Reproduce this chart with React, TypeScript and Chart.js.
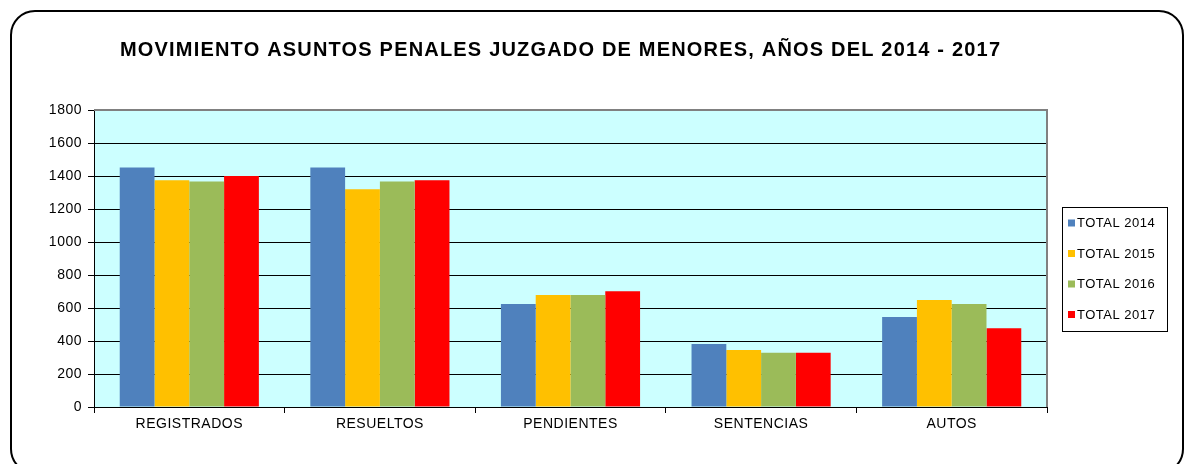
import React, { useEffect, useRef } from "react";
import { Chart, registerables } from "chart.js";

Chart.register(...registerables);

const TITLE = "MOVIMIENTO ASUNTOS PENALES JUZGADO DE MENORES, AÑOS DEL 2014 - 2017";
const categories = ["REGISTRADOS", "RESUELTOS", "PENDIENTES", "SENTENCIAS", "AUTOS"];
const seriesLabels = ["TOTAL 2014", "TOTAL 2015", "TOTAL 2016", "TOTAL 2017"];
const total2014 = [1452, 1452, 624, 382, 545];
const total2015 = [1374, 1319, 679, 345, 648];
const total2016 = [1366, 1366, 679, 329, 624];
const total2017 = [1400, 1374, 701, 329, 477];
const seriesColors = ["#4F81BD", "#FFC000", "#9BBB59", "#FF0000"];
const yMax = 1800;
const yStep = 200;

const FONT = "'Liberation Sans', Arial, sans-serif";

const framePlugin = {
  id: "framePlugin",
  beforeDraw(chart: any) {
    const { ctx, chartArea } = chart;
    ctx.save();
    ctx.fillStyle = "#ffffff";
    ctx.fillRect(0, 0, chart.width, chart.height);
    // rounded frame
    ctx.strokeStyle = "#000000";
    ctx.lineWidth = 2;
    ctx.beginPath();
    (ctx as any).roundRect(11, 11, 1172, 462, 24);
    ctx.stroke();
    // plot background
    ctx.fillStyle = "#CCFFFF";
    ctx.fillRect(chartArea.left, chartArea.top, chartArea.right - chartArea.left, chartArea.bottom - chartArea.top);
    ctx.restore();
    (ctx as any).letterSpacing = "0.5px";
  },
  afterDraw(chart: any) {
    const { ctx, chartArea } = chart;
    ctx.save();
    // plot border top/right
    ctx.strokeStyle = "#808080";
    ctx.lineWidth = 2;
    ctx.beginPath();
    ctx.moveTo(chartArea.left, chartArea.top);
    ctx.lineTo(chartArea.right, chartArea.top);
    ctx.lineTo(chartArea.right, chartArea.bottom);
    ctx.stroke();
    // title, fitted to span 120..1000
    ctx.fillStyle = "#000";
    ctx.font = `bold 20px ${FONT}`;
    ctx.textAlign = "left";
    ctx.textBaseline = "middle";
    (ctx as any).letterSpacing = "0px";
    const w0 = ctx.measureText(TITLE).width;
    const n = Array.from(TITLE).length;
    const sp = (880 - w0) / (n - 1);
    (ctx as any).letterSpacing = `${sp}px`;
    ctx.fillText(TITLE, 120, 50);
    // legend
    const lx = 1062, ly = 207, lw = 105, lh = 124;
    ctx.strokeStyle = "#000";
    ctx.lineWidth = 1;
    ctx.strokeRect(lx + 0.5, ly + 0.5, lw, lh);
    ctx.font = `13px ${FONT}`;
    (ctx as any).letterSpacing = "0.5px";
    ctx.textAlign = "left";
    chart.data.datasets.forEach((ds: any, i: number) => {
      const cy = 223 + i * 30.5;
      ctx.fillStyle = ds.backgroundColor;
      ctx.fillRect(1068, cy - 3.5, 7, 7);
      ctx.fillStyle = "#000";
      ctx.fillText(ds.label, 1077, cy + 0.5);
    });
    ctx.restore();
    (ctx as any).letterSpacing = "0px";
  },
};

export default function App() {
  const ref = useRef<HTMLCanvasElement>(null);
  useEffect(() => {
    const values = [total2014, total2015, total2016, total2017];
    const chart = new Chart(ref.current!, {
      type: "bar",
      data: {
        labels: categories,
        datasets: seriesLabels.map((label, i) => ({
          label,
          data: values[i],
          backgroundColor: seriesColors[i],
          borderWidth: 0,
          categoryPercentage: 0.73,
          barPercentage: 1,
        })),
      },
      options: {
        animation: false,
        responsive: false,
        layout: { padding: { left: 0, top: 110, right: 139, bottom: 0 } },
        plugins: { legend: { display: false }, title: { display: false }, tooltip: { enabled: false } },
        scales: {
          x: {
            afterFit(scale: any) { scale.height = 57; },
            grid: { drawOnChartArea: false, drawTicks: true, tickLength: 6, color: "#000", offset: true },
            border: { display: true, color: "#000", width: 1 },
            ticks: { color: "#000", font: { family: FONT, size: 14 }, padding: 3 },
          },
          y: {
            min: 0,
            max: yMax,
            afterFit(scale: any) { scale.width = 94; },
            grid: { color: "#000", lineWidth: 1, drawTicks: true, tickLength: 6 },
            border: { display: true, color: "#000", width: 1 },
            ticks: {
              stepSize: yStep,
              color: "#000",
              font: { family: FONT, size: 14 },
              padding: 6,
              callback: (v: any) => String(v),
            },
          },
        },
      },
      plugins: [framePlugin],
    });
    return () => chart.destroy();
  }, []);
  return (
    <div style={{ position: "absolute", left: 0, top: 0, width: 1186, height: 464 }}>
      <canvas ref={ref} width={1186} height={464} style={{ width: 1186, height: 464, display: "block" }} />
    </div>
  );
}
